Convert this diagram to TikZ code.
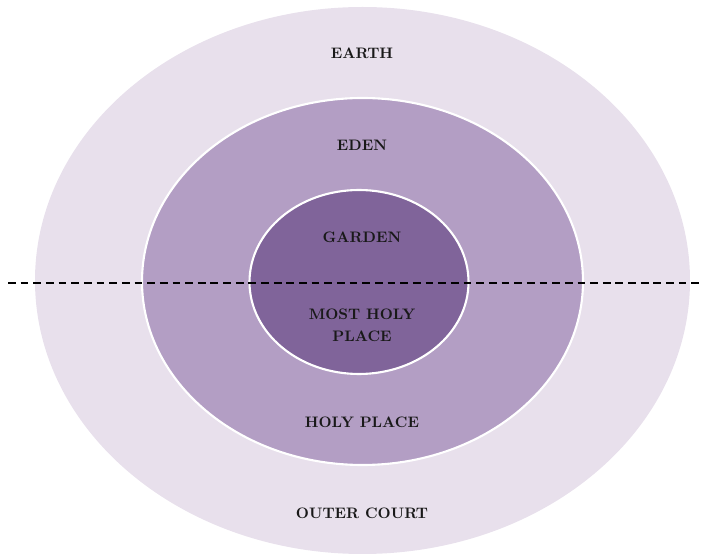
\documentclass[tikz,border=0pt]{standalone}
\usepackage{tikz}
\usetikzlibrary{positioning}
\definecolor{earthcol}{RGB}{232,224,236}
\definecolor{edencol}{RGB}{179,158,196}
\definecolor{gardencol}{RGB}{128,100,154}
\tikzset{%
   zone/.style={draw=white, line width=1.5pt},
   lbl/.style={font=\fontsize{10.8}{13}\selectfont\bfseries, text=black!90, inner sep=1pt, align=center},
   divide/.style={dashed, dash pattern=on 5.5pt off 3.5pt, line width=0.8pt},
}
\begin{document}
\begin{tikzpicture}[x=0.025cm, y=-0.025cm]
      \useasboundingbox (0,0) rectangle (706,557);
      \fill[earthcol] (362.5,280.5) ellipse [x radius=327.5, y radius=273.5];
      \filldraw[zone, fill=edencol] (362.5,281.5) ellipse [x radius=220.5, y radius=183.5];
      \filldraw[zone, fill=gardencol] (359,282) ellipse [x radius=109.5, y radius=92];
      \node[lbl] (earth) at (362,53) {EARTH};
      \node[lbl] (eden) at (362,145) {EDEN};
      \node[lbl] (garden) at (362,237) {GARDEN};
      \node[lbl] (mhp) at (362,325) {MOST HOLY\\[2.5pt] PLACE};
      \node[lbl] (hp) at (362,422) {HOLY PLACE};
      \node[lbl] (oc) at (362,513) {OUTER COURT};
      \coordinate (l) at (8,283);
      \coordinate (r) at (700,283);
      \draw[divide] (l) -- (r);
   \end{tikzpicture}
\end{document}
